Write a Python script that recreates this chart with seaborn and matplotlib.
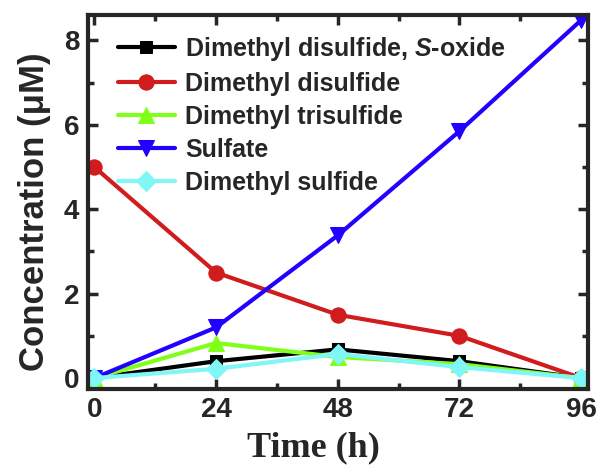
import numpy as np
import pandas as pd
import matplotlib
matplotlib.use("Agg")
import matplotlib.pyplot as plt
import seaborn as sns
from matplotlib.ticker import MultipleLocator

# data
time_h = [0, 24, 48, 72, 96]
dmdso = [0, 0.4, 0.68, 0.4, 0]
dmds = [5.0, 2.5, 1.5, 1.0, 0]
dmts = [0, 0.83, 0.5, 0.33, 0]
sulfate = [0, 1.2, 3.38, 5.85, 8.48]
dms = [0, 0.22, 0.57, 0.26, 0]

names = ["Dimethyl disulfide, $\\mathit{S}$-oxide", "Dimethyl disulfide",
         "Dimethyl trisulfide", "Sulfate", "Dimethyl sulfide"]
series = [dmdso, dmds, dmts, sulfate, dms]
colors = ["#000000", "#d01c1c", "#80ff1a", "#2200ff", "#80f6f6"]
markers = ["s", "o", "^", "v", "D"]
msizes = [9, 11, 11, 11, 10]

sns.set_style("ticks")
plt.rcParams["font.family"] = ["Liberation Sans", "DejaVu Sans"]
plt.rcParams["font.weight"] = "bold"
plt.rcParams["mathtext.fontset"] = "custom"
plt.rcParams["mathtext.it"] = "Liberation Sans:italic:bold"
plt.rcParams["mathtext.rm"] = "Liberation Sans:bold"

fig = plt.figure(figsize=(6.01, 4.71), dpi=100)
ax = fig.add_axes([0.146, 0.174, 0.832, 0.794])

for name, vals, c, m, ms in zip(names, series, colors, markers, msizes):
    df = pd.DataFrame({"t": time_h, "c": vals})
    sns.lineplot(data=df, x="t", y="c", ax=ax, color=c, marker=m, markersize=ms,
                 markeredgecolor=c, linewidth=3, label=name)

ax.set_xlim(-1.3, 97.3)
ax.set_ylim(-0.26, 8.6)
ax.xaxis.set_major_locator(MultipleLocator(24))
ax.xaxis.set_minor_locator(MultipleLocator(12))
ax.yaxis.set_major_locator(MultipleLocator(2))
ax.yaxis.set_minor_locator(MultipleLocator(1))
ax.tick_params(which="both", direction="in", width=2.5, top=True, right=True,
               labelsize=20, pad=6)
ax.tick_params(which="major", length=7)
ax.tick_params(which="minor", length=4)
for lab in ax.get_xticklabels() + ax.get_yticklabels():
    lab.set_fontweight("bold")
for s in ax.spines.values():
    s.set_linewidth(3)

ax.set_xlabel("Time (h)", fontsize=26, fontweight="bold",
              family=["Liberation Serif"], labelpad=6)
ax.xaxis.label.set_x(0.452)
ax.set_ylabel("Concentration (\u03bcM)", fontsize=25, fontweight="bold", labelpad=9)
ax.yaxis.label.set_y(0.473)

ax.legend(loc="upper left", frameon=False, fontsize=18, handlelength=2.3,
          handletextpad=0.4, labelspacing=0.36, borderaxespad=0.0, borderpad=0.5,
          bbox_to_anchor=(0.035, 0.98))
for t in ax.get_legend().get_texts():
    t.set_fontweight("bold")

fig.savefig("out.png", dpi=100)
